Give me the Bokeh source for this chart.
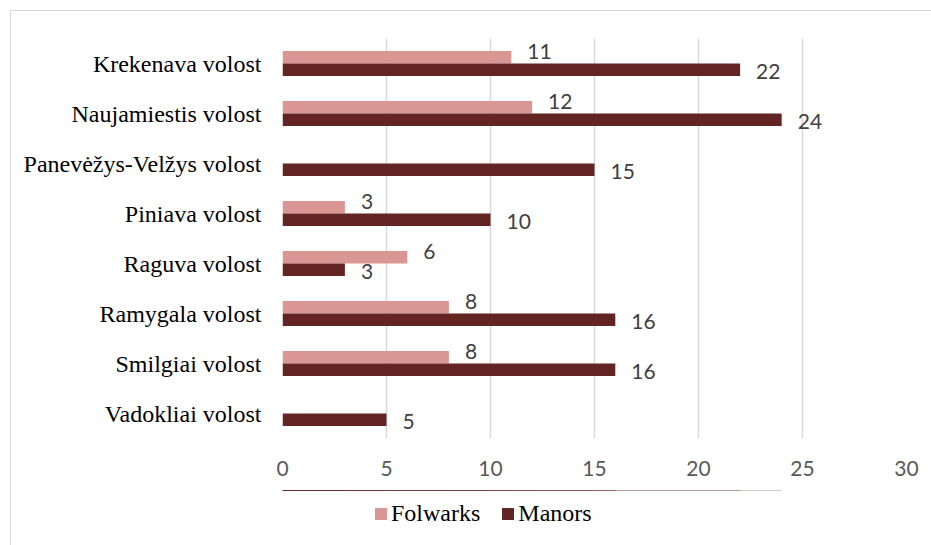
from bokeh.plotting import figure
from bokeh.layouts import column
from bokeh.models import ColumnDataSource, FactorRange, Range1d, InlineStyleSheet
from bokeh.transform import dodge
from bokeh.core.properties import value
from bokeh.embed import file_html
from bokeh.resources import INLINE

categories = ["Krekenava volost", "Naujamiestis volost", "Panevėžys-Velžys volost",
              "Piniava volost", "Raguva volost", "Ramygala volost",
              "Smilgiai volost", "Vadokliai volost"]
folwarks = [11, 12, 0, 3, 6, 8, 8, 0]
manors = [22, 24, 15, 10, 3, 16, 16, 5]
x_ticks = [0, 5, 10, 15, 20, 25, 30]

PINK = "#D99694"
DARK = "#632523"
SERIF = "Liberation Serif"
SANS = "Lato"
BORDER = "#D9D9D9"

src = ColumnDataSource(dict(cat=categories, folwarks=folwarks, manors=manors))

def label_source(vals):
    keep = [(c, v) for c, v in zip(categories, vals) if v]
    return ColumnDataSource(dict(cat=[c for c, _ in keep], val=[v for _, v in keep],
                                 txt=[str(v) for _, v in keep]))

def frame_css(top, bottom, with_top):
    css = (":host::after { content: ''; position: absolute; left: 10px; "
           f"top: {top}px; right: -20px; bottom: {bottom}px; "
           f"border-left: 1px solid {BORDER}; pointer-events: none; z-index: 100; ")
    if with_top:
        css += f"border-top: 1px solid {BORDER}; "
    return InlineStyleSheet(css=css + "}")

# ---- main chart ----
p = figure(y_range=FactorRange(factors=list(reversed(categories))),
           x_range=Range1d(0, 30),
           width=931, height=490,
           output_backend="svg", toolbar_location=None,
           min_border_left=282, min_border_right=25,
           min_border_top=38, min_border_bottom=52)
p.outline_line_color = None
p.background_fill_color = "white"
p.border_fill_color = "white"
p.stylesheets = [frame_css(10, -5, True)]

p.hbar(y=dodge("cat", 0.125, range=p.y_range), right="folwarks", left=0, height=0.25,
       fill_color=PINK, line_color=None, source=src)
p.hbar(y=dodge("cat", -0.125, range=p.y_range), right="manors", left=0, height=0.25,
       fill_color=DARK, line_color=None, source=src)

for vals, off, dy in ((folwarks, 0.125, -6), (manors, -0.125, 2)):
    p.text(x="val", y=dodge("cat", off, range=p.y_range), text="txt",
           x_offset=16, y_offset=dy, text_font=value(SANS), text_font_size="21px",
           text_color="#404040", text_align="left", text_baseline="middle",
           source=label_source(vals))

p.xaxis.ticker = x_ticks
p.xaxis.axis_line_color = None
p.xaxis.major_tick_line_color = None
p.xaxis.minor_tick_line_color = None
p.xaxis.major_tick_out = 0
p.xaxis.major_tick_in = 0
p.xaxis.major_label_standoff = 22
p.xaxis.major_label_text_font = SANS
p.xaxis.major_label_text_font_size = "21px"
p.xaxis.major_label_text_color = "#595959"

p.yaxis.axis_line_color = None
p.yaxis.major_tick_line_color = None
p.yaxis.minor_tick_line_color = None
p.yaxis.major_tick_out = 0
p.yaxis.major_tick_in = 0
p.yaxis.major_label_standoff = 21
p.yaxis.major_label_text_font = SERIF
p.yaxis.major_label_text_font_size = "24px"
p.yaxis.major_label_text_color = "#000000"

p.ygrid.grid_line_color = None
p.xgrid.ticker = x_ticks
p.xgrid.grid_line_color = BORDER
p.xgrid.grid_line_width = 1.5

# ---- legend strip: same two series, shifted far outside its view so only the legend shows ----
q = figure(y_range=FactorRange(factors=list(reversed(categories))),
           x_range=Range1d(0, 30),
           width=931, height=55,
           output_backend="svg", toolbar_location=None,
           x_axis_type=None, y_axis_type=None,
           min_border_left=0, min_border_right=0, min_border_top=0, min_border_bottom=0)
q.outline_line_color = None
q.grid.visible = False
q.background_fill_color = "white"
q.border_fill_color = "white"
q.stylesheets = [frame_css(-2, -20, False)]
q.hbar(y=dodge("cat", 200, range=q.y_range), right="folwarks", left=0, height=0.25,
       fill_color=PINK, line_color=None, legend_label="Folwarks", source=src)
q.hbar(y=dodge("cat", 200, range=q.y_range), right="manors", left=0, height=0.25,
       fill_color=DARK, line_color=None, legend_label="Manors", source=src)

lg = q.legend[0]
lg.orientation = "horizontal"
lg.location = (91, 18)
lg.glyph_width = 15
lg.glyph_height = 15
lg.label_standoff = 3
lg.spacing = 20
lg.padding = 0
lg.margin = 0
lg.border_line_color = None
lg.background_fill_alpha = 0
lg.label_text_font = SERIF
lg.label_text_font_size = "24px"
lg.label_text_color = "#000000"

layout = column(p, q, spacing=0)
open("out.html", "w").write(file_html(layout, INLINE))
